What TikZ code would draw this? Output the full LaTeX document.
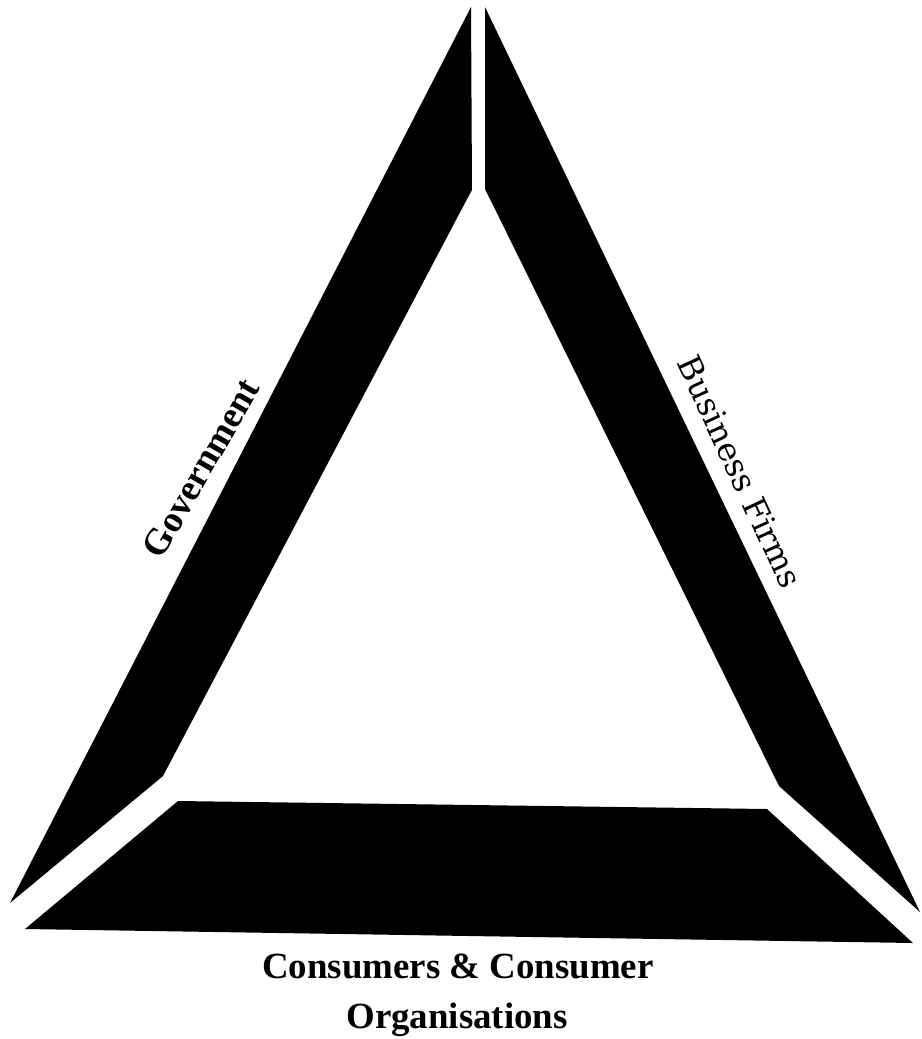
\documentclass[tikz,border=0pt]{standalone}
\usepackage{fontspec}
\setmainfont{Liberation Serif}
\newfontfamily\slabfont{DejaVu Serif}
\usetikzlibrary{positioning}
\tikzset{
  sector/.style={fill=black,draw=none},
  lbl/.style={font=\fontsize{21}{25}\selectfont\bfseries,inner sep=0pt},
  slablbl/.style={font=\fontsize{18.5}{22}\slabfont,inner sep=0pt}
}

\begin{document}
\begin{tikzpicture}[x=0.02cm,y=-0.02cm]
\useasboundingbox (0,0) rectangle (921,1039);
\fill[white] (0,0) rectangle (921,1039);
\fill[sector] (471,7) -- (472,190) -- (466,201) -- (163,776) -- (10,903) -- cycle; % left side
\fill[sector] (485,7) -- (485,189) -- (491,201) -- (779,786) -- (920,912) -- cycle; % right side
\fill[sector] (178,801) -- (767,809) -- (913,943) -- (25,929) -- cycle; % base
\node[lbl,rotate=60] (gov) at (201,468) {Government};
\node[slablbl,rotate=-65] (biz) at (740,472) {Business Firms};
\node[lbl,anchor=base] (cons) at (458,978) {Consumers \& Consumer};
\node[lbl,anchor=base] (org) at (457,1028) {Organisations};
\end{tikzpicture}
\end{document}
